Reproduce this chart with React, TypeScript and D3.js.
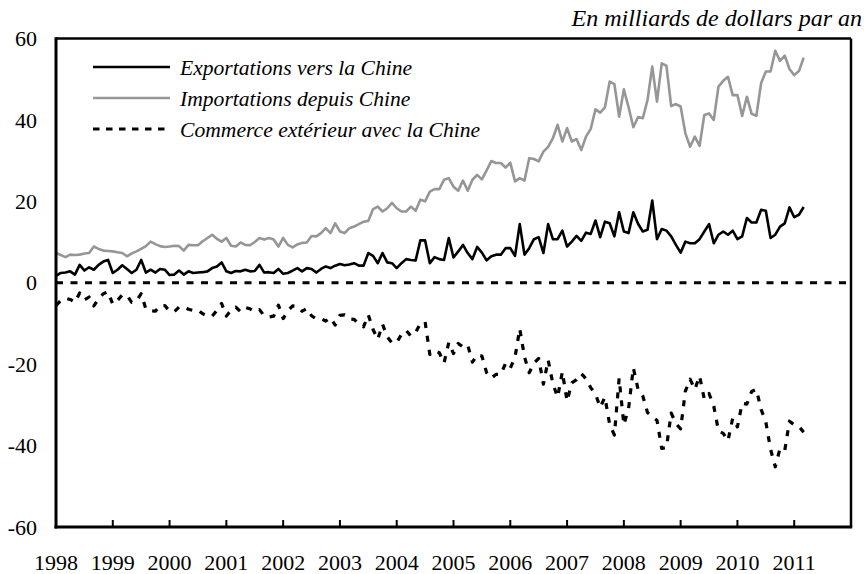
import React from "react";
import * as d3 from "d3";

const startYear = 1998;
const yearLabels = ["1998","1999","2000","2001","2002","2003","2004","2005","2006","2007","2008","2009","2010","2011"];
const yTicks = [60, 40, 20, 0, -20, -40, -60];
const legendLabels = ["Exportations vers la Chine", "Importations depuis Chine", "Commerce extérieur avec la Chine"];
const unitLabel = "En milliards de dollars par an";

// Monthly values, Jan 1998 .. Mar 2011
const exportsChina = [
  1.7,2.4,2.5,2.8,2.0,4.4,3.0,3.8,3.2,4.4,5.2,5.6,
  2.4,3.2,4.3,3.4,2.4,3.2,5.6,2.5,3.2,2.5,3.4,3.2,
  1.9,2.0,3.0,2.0,2.8,2.4,2.5,2.6,2.8,3.6,4.0,5.0,
  2.8,2.4,2.9,2.8,3.2,2.8,2.9,4.4,2.5,2.6,2.4,3.4,
  2.2,2.4,3.0,3.6,2.8,3.6,3.4,2.5,3.4,4.0,3.6,4.2,
  4.6,4.3,4.5,4.8,4.2,4.2,7.3,6.6,4.8,7.3,5.0,4.8,
  3.6,4.8,5.8,5.6,5.5,10.4,10.4,4.8,6.3,5.8,5.6,11.0,
  6.2,7.7,9.3,7.3,5.8,8.8,7.4,5.5,6.5,6.9,6.9,8.5,
  8.5,6.6,14.4,6.9,8.5,10.7,11.2,7.3,14.4,10.7,10.7,12.8,
  8.9,10.1,11.5,10.3,12.3,12.0,15.3,11.2,15.0,14.6,11.4,17.3,
  12.6,12.2,17.3,14.5,12.6,13.0,20.2,10.7,13.2,12.8,11.4,9.3,
  7.4,10.1,9.7,9.7,10.7,12.6,14.4,9.7,11.8,12.6,11.8,12.8,
  10.7,11.4,15.9,14.8,14.8,17.9,17.7,11.0,11.8,13.8,14.6,18.5,
  16.1,16.7,18.6
];

const importsChina = [
  7.3,6.8,6.3,6.9,6.8,6.9,7.2,7.3,8.9,8.3,7.9,7.8,
  7.7,7.5,7.3,6.5,7.2,7.7,8.3,9.0,10.1,9.5,9.0,8.8,
  8.9,9.1,9.0,7.9,9.3,9.2,9.2,10.2,11.0,11.8,10.8,10.1,
  11.0,9.1,8.9,9.9,9.3,9.2,10.0,11.0,10.6,11.0,10.6,8.9,
  11.0,9.3,8.7,9.4,9.8,9.9,11.5,11.4,12.2,13.4,12.2,14.6,
  12.6,12.2,13.4,13.8,14.4,15.0,15.2,18.1,18.7,17.5,18.3,19.6,
  18.3,17.5,17.5,18.7,17.7,20.4,20.0,22.4,23.0,23.0,25.3,25.7,
  23.6,22.6,25.1,22.6,25.3,26.5,25.4,27.6,29.9,29.4,29.4,28.3,
  29.5,24.9,25.7,25.1,30.6,30.4,29.8,32.2,33.4,35.5,38.8,34.7,
  38.0,34.7,35.3,32.6,35.9,37.8,42.6,41.8,43.1,49.4,48.8,40.8,
  47.5,43.1,38.2,40.7,40.4,44.9,53.1,44.5,53.9,53.3,43.4,43.9,
  43.3,36.7,33.4,35.9,33.6,41.2,41.6,40.0,48.2,49.6,50.6,46.1,
  46.1,41.0,45.7,41.5,41.0,49.0,51.9,51.9,57.0,54.5,55.8,52.5,
  51.0,52.0,55.3
];

const balanceChina = [
  -5.6,-4.4,-3.8,-4.1,-4.8,-2.5,-4.2,-3.5,-5.7,-3.9,-2.7,-2.2,
  -5.3,-4.3,-3.0,-3.1,-4.8,-4.5,-2.7,-6.5,-6.9,-7.0,-5.6,-5.6,
  -7.0,-7.1,-6.0,-5.9,-6.5,-6.8,-6.7,-7.6,-8.2,-8.2,-6.8,-5.1,
  -8.2,-6.7,-6.0,-7.1,-6.1,-6.4,-7.1,-6.6,-8.1,-8.4,-8.2,-5.5,
  -8.8,-6.9,-5.7,-5.8,-7.0,-6.3,-8.1,-8.9,-8.8,-9.4,-8.6,-10.4,
  -8.0,-7.9,-8.9,-9.0,-10.2,-10.8,-7.9,-11.5,-13.9,-10.2,-13.3,-14.8,
  -14.7,-12.7,-11.7,-13.1,-12.2,-10.0,-9.6,-17.6,-16.7,-17.2,-19.7,-14.7,
  -17.4,-14.9,-15.8,-15.3,-19.5,-17.7,-18.0,-22.1,-23.4,-22.5,-22.5,-19.8,
  -21.0,-18.3,-11.3,-18.2,-22.1,-19.7,-18.6,-24.9,-19.0,-24.8,-28.1,-21.9,
  -29.1,-24.6,-23.8,-22.3,-23.6,-25.8,-27.3,-30.6,-28.1,-34.8,-37.4,-23.5,
  -34.9,-30.9,-20.9,-26.2,-27.8,-31.9,-32.9,-33.8,-40.7,-40.5,-32.0,-34.6,
  -35.9,-26.6,-23.7,-26.2,-22.9,-28.6,-27.2,-30.3,-36.4,-37.0,-38.8,-33.3,
  -35.4,-29.6,-29.8,-26.7,-26.2,-31.1,-34.2,-40.9,-45.2,-40.7,-41.2,-34.0,
  -34.9,-35.3,-36.7
];

const W = 867, H = 574;
const L = 56, R = 851, T = 38.5, B = 527;
const FONT = "Liberation Serif, Times New Roman, Times, serif";

export default function App() {
  const x = d3.scaleLinear().domain([startYear, startYear + 14]).range([L, R]);
  const y = d3.scaleLinear().domain([-60, 60]).range([B, T]);
  const tOf = (i: number) => startYear + i / 12;
  const line = d3.line<number>().x((_, i) => x(tOf(i))).y((d) => y(d));
  const txt = { fontFamily: FONT } as React.CSSProperties;
  const itxt = { fontFamily: FONT, fontStyle: "italic" } as React.CSSProperties;

  return (
    <svg width={W} height={H} style={{ position: "absolute", left: 0, top: 0, background: "#fff" }}>
      <rect x={0} y={0} width={W} height={H} fill="#fff" />
      <text x={862} y={26} textAnchor="end" fontSize={24} style={itxt} fill="#000">{unitLabel}</text>

      {/* zero line */}
      <line x1={L} x2={R} y1={y(0)} y2={y(0)} stroke="#000" strokeWidth={3} strokeDasharray="7,7.5" />

      <path d={line(importsChina) || ""} fill="none" stroke="#969696" strokeWidth={2.6} strokeLinejoin="round" />
      <path d={line(exportsChina) || ""} fill="none" stroke="#000" strokeWidth={2.6} strokeLinejoin="round" />
      <path d={line(balanceChina) || ""} fill="none" stroke="#000" strokeWidth={3.2} strokeDasharray="6,8" strokeLinejoin="round" />

      {/* frame */}
      <line x1={L} x2={R} y1={T} y2={T} stroke="#000" strokeWidth={2.5} />
      <line x1={R} x2={R} y1={T} y2={B} stroke="#000" strokeWidth={2.5} />
      <line x1={L} x2={L} y1={T - 1.2} y2={B + 1.5} stroke="#000" strokeWidth={3} />
      <line x1={L - 1.5} x2={R + 1.2} y1={B} y2={B} stroke="#000" strokeWidth={3} />

      {/* x ticks and labels */}
      {yearLabels.map((lab, i) => {
        const xx = x(startYear + i);
        return (
          <g key={lab}>
            {i > 0 && <line x1={xx} x2={xx} y1={B} y2={B - 7} stroke="#000" strokeWidth={2} />}
            <text x={xx} y={570} textAnchor="middle" fontSize={22} style={txt} fill="#000">{lab}</text>
          </g>
        );
      })}

      {/* y labels */}
      {yTicks.map((v) => (
        <text key={v} x={37} y={y(v)} dy="0.35em" textAnchor="end" fontSize={22} style={txt} fill="#000">{v}</text>
      ))}

      {/* legend */}
      <line x1={93} x2={170} y1={67} y2={67} stroke="#000" strokeWidth={2.6} />
      <line x1={93} x2={170} y1={98} y2={98} stroke="#969696" strokeWidth={2.6} />
      <line x1={93} x2={170} y1={129} y2={129} stroke="#000" strokeWidth={3.2} strokeDasharray="6.5,6.5" />
      {legendLabels.map((lab, i) => (
        <text key={lab} x={180} y={75 + i * 31} fontSize={21.6} style={itxt} fill="#000">{lab}</text>
      ))}
    </svg>
  );
}
